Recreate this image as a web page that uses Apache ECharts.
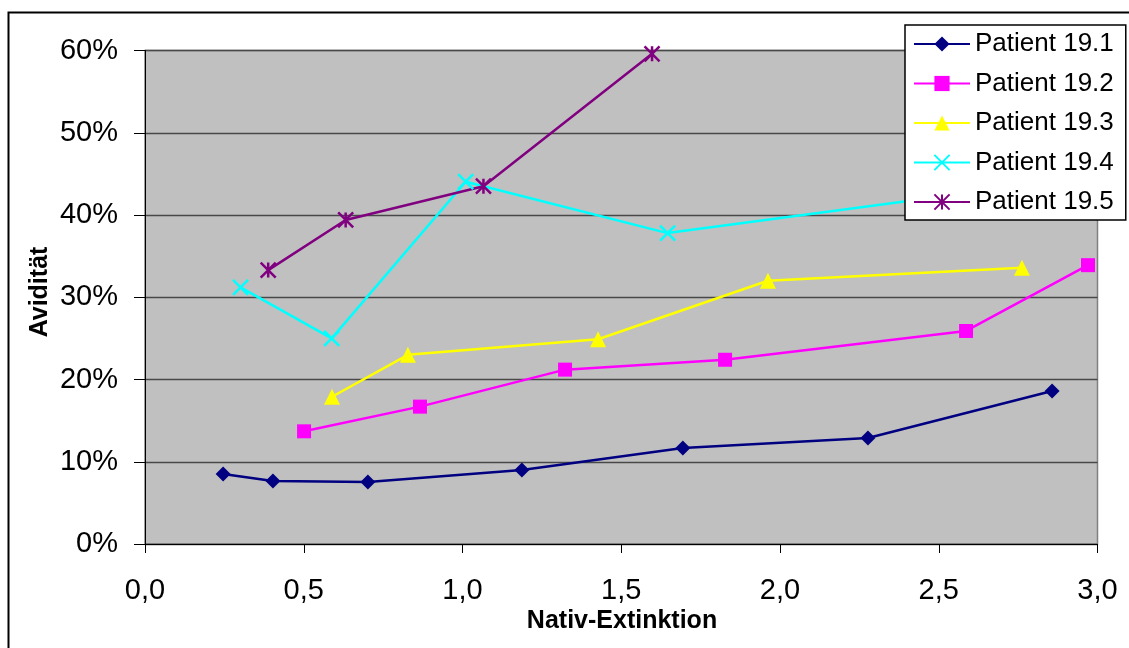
<!DOCTYPE html>
<html>
<head>
<meta charset="utf-8">
<script src="https://cdn.jsdelivr.net/npm/echarts@6/dist/echarts.min.js"></script>
<style>html,body{margin:0;padding:0;background:#fff;}#c{width:1129px;height:648px;}</style>
</head>
<body>
<div id="c"></div>
<script>
// ---- data ----
var seriesNames = ['Patient 19.1', 'Patient 19.2', 'Patient 19.3', 'Patient 19.4', 'Patient 19.5'];
var p1x = [0.246, 0.403, 0.702, 1.187, 1.694, 2.277, 2.857];
var p1y = [8.5, 7.66, 7.54, 9.0, 11.67, 12.89, 18.6];
var p2x = [0.501, 0.866, 1.323, 1.827, 2.586, 2.970];
var p2y = [13.7, 16.7, 21.2, 22.4, 25.9, 33.9];
var p3x = [0.589, 0.828, 1.427, 1.962, 2.762];
var p3y = [17.9, 23.0, 24.9, 32.0, 33.6];
var p4x = [0.301, 0.588, 1.010, 1.646, 2.753];
var p4y = [31.2, 25.0, 44.05, 37.8, 43.5];
var p5x = [0.388, 0.632, 1.066, 1.597];
var p5y = [33.3, 39.4, 43.5, 59.6];
var xTicks = [0, 0.5, 1.0, 1.5, 2.0, 2.5, 3.0];
var yTicks = [0, 10, 20, 30, 40, 50, 60];

function pairs(xs, ys) { return xs.map(function (x, i) { return [x, ys[i]]; }); }

var FONT = "'Liberation Sans', Arial, sans-serif";
var xPath = 'path://M0,0L10,10M10,0L0,10';
var starPath = 'path://M5,0L5,10M0,0L10,10M10,0L0,10';

var styles = [
  { color: '#000080', symbol: 'diamond', size: 15 },
  { color: '#FF00FF', symbol: 'rect', size: 14 },
  { color: '#FFFF00', symbol: 'triangle', size: 16 },
  { color: '#00FFFF', symbol: xPath, size: 15 },
  { color: '#800080', symbol: starPath, size: 15 }
];
var datas = [pairs(p1x, p1y), pairs(p2x, p2y), pairs(p3x, p3y), pairs(p4x, p4y), pairs(p5x, p5y)];

var series = seriesNames.map(function (n, i) {
  var s = styles[i];
  var stroked = i >= 3;
  return {
    name: n,
    type: 'line',
    data: datas[i],
    symbol: s.symbol,
    symbolSize: s.size,
    showAllSymbol: true,
    lineStyle: { color: s.color, width: 2.5 },
    itemStyle: { color: s.color, borderColor: s.color, borderWidth: stroked ? 2.5 : 0, opacity: 1 },
    emphasis: { disabled: true },
    animation: false,
    z: 3
  };
});

var chart = echarts.init(document.getElementById('c'), null, { renderer: 'canvas' });
chart.setOption({
  backgroundColor: '#fff',
  animation: false,
  textStyle: { fontFamily: FONT },
  grid: {
    left: 145, top: 50.5, right: 31.5, bottom: 104,
    show: true, backgroundColor: '#C0C0C0', borderColor: '#808080', borderWidth: 1.5
  },
  xAxis: {
    type: 'value', min: 0, max: 3, interval: 0.5,
    axisLine: { show: true, onZero: false, lineStyle: { color: '#000', width: 1 } },
    axisTick: { show: true, length: 9, lineStyle: { color: '#000' } },
    splitLine: { show: false },
    axisLabel: {
      margin: 32, fontSize: 29, color: '#000', fontFamily: FONT,
      formatter: function (v) { return v.toFixed(1).replace('.', ','); }
    }
  },
  yAxis: {
    type: 'value', min: 0, max: 60, interval: 10,
    axisLine: { show: true, lineStyle: { color: '#000', width: 1 } },
    axisTick: { show: true, length: 11, lineStyle: { color: '#000' } },
    splitLine: { show: true, lineStyle: { color: '#484848', width: 1.4 } },
    axisLabel: {
      margin: 27, fontSize: 29, color: '#000', fontFamily: FONT,
      formatter: function (v) { return v + '%'; }
    }
  },
  legend: {
    orient: 'vertical',
    left: 905, top: 25,
    padding: [6, 12, 5, 8],
    itemWidth: 56, itemHeight: 19, itemGap: 13.5,
    backgroundColor: '#fff', borderColor: '#000', borderWidth: 1.5, borderRadius: 0,
    textStyle: { fontSize: 26, color: '#000', fontFamily: FONT, lineHeight: 26 },
    data: seriesNames,
    selectedMode: false,
    z: 10
  },
  graphic: [
    { type: 'rect', left: 6, top: 10, shape: { width: 1140, height: 660 },
      style: { fill: 'none', stroke: '#000', lineWidth: 2 }, z: 100, silent: true },
    { type: 'text', x: 622, y: 621, style: { text: 'Nativ-Extinktion', font: "bold 25px 'Liberation Sans', Arial, sans-serif",
      fill: '#000', align: 'center', verticalAlign: 'middle' }, z: 100 },
    { type: 'text', x: 40, y: 292, rotation: Math.PI / 2, style: { text: 'Avidität', font: "bold 25px 'Liberation Sans', Arial, sans-serif",
      fill: '#000', align: 'center', verticalAlign: 'middle' }, z: 100 }
  ],
  series: series
});
</script>
</body>
</html>
